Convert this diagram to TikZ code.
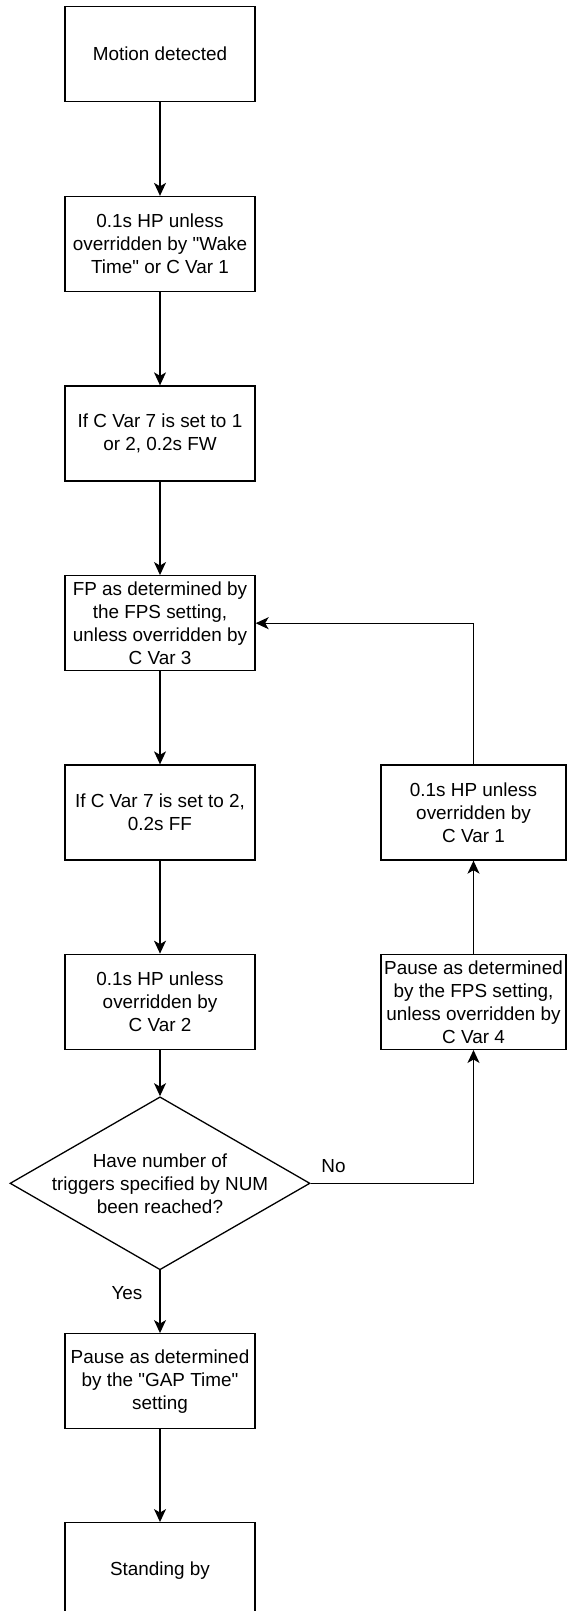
\documentclass[tikz,border=0pt]{standalone}
\usepackage{fontspec}
\newfontfamily\flowfont{Liberation Sans}
\usetikzlibrary{arrows.meta,shapes.geometric}

\begin{document}
\begin{tikzpicture}[x=1pt, y=-1pt,
		box/.style={draw, line width=1.3pt, minimum width=190pt, minimum height=95pt, inner sep=0pt, align=center, font=\flowfont\fontsize{18.9}{23}\selectfont},
		sidebox/.style={box, minimum width=185pt},
		arr/.style={line width=1.3pt, -{Stealth[length=13pt, width=12pt, inset=3.5pt]}},
		lbl/.style={inner sep=0pt, font=\flowfont\fontsize{18.9}{23}\selectfont}]
		%%%%% START %%%%%
		
		\useasboundingbox (0, 0) rectangle (567, 1611);
		
		\node[box] (motion) at (160, 54.2) {Motion detected};
		\node[box] (wake) at (160, 244) {0.1s HP unless\\overridden by "Wake\\Time" or C Var 1};
		\node[box] (fw) at (160, 433.5) {If C Var 7 is set to 1\\or 2, 0.2s FW};
		\node[box] (fp) at (160, 623.2) {FP as determined by\\the FPS setting,\\unless overridden by\\C Var 3};
		\node[box] (ff) at (160, 812.5) {If C Var 7 is set to 2,\\0.2s FF};
		\node[box] (hptwo) at (160, 1001.8) {0.1s HP unless\\overridden by\\C Var 2};
		
		\node[draw, diamond, line width=1.3pt, minimum width=300pt, minimum height=173pt, inner sep=0pt] (reached) at (160, 1183.3) {};
		\node[lbl, align=center] (reachedtxt) at (reached) {Have number of\\triggers specified by NUM\\been reached?};
		
		\node[box] (gap) at (160, 1381.2) {Pause as determined\\by the "GAP Time"\\setting};
		\node[box] (standby) at (160, 1570.2) {Standing by};
		
		\node[sidebox] (hpone) at (473.5, 812.5) {0.1s HP unless\\overridden by\\C Var 1};
		\node[sidebox] (pause) at (473.5, 1001.8) {Pause as determined\\by the FPS setting,\\unless overridden by\\C Var 4};
		
		\draw[arr] (motion) -- (wake);
		\draw[arr] (wake) -- (fw);
		\draw[arr] (fw) -- (fp);
		\draw[arr] (fp) -- (ff);
		\draw[arr] (ff) -- (hptwo);
		\draw[arr] (hptwo) -- (reached.north);
		\draw[arr] (reached.south) -- node[lbl, pos=0.36, anchor=east, xshift=-17pt] (yes) {Yes} (gap);
		\draw[arr] (gap) -- (standby);
		
		\draw[arr] (reached.east) -- node[lbl, pos=0.14, anchor=south, yshift=9.5pt] (no) {No} (reached.east -| pause.south) -- (pause.south);
		\draw[arr] (pause) -- (hpone);
		\draw[arr] (hpone.north) |- (fp.east);
		
		%%%%% END %%%%%
	\end{tikzpicture}
\end{document}
